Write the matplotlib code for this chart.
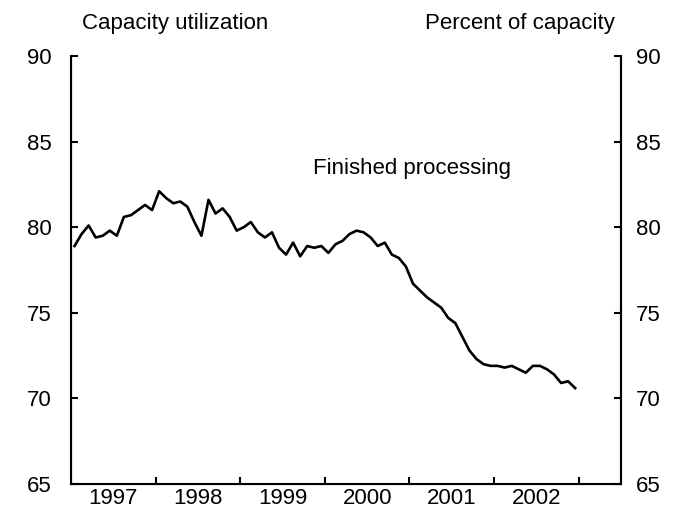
import matplotlib.pyplot as plt
import numpy as np

plt.rcParams['font.family'] = ['Liberation Sans', 'DejaVu Sans']

# monthly capacity utilization, finished processing, Jan 1997 - Dec 2002
util_1997 = [78.9, 79.6, 80.1, 79.4, 79.5, 79.8, 79.5, 80.6, 80.7, 81.0, 81.3, 81.0]
util_1998 = [82.1, 81.7, 81.4, 81.5, 81.2, 80.3, 79.5, 81.6, 80.8, 81.1, 80.6, 79.8]
util_1999 = [80.0, 80.3, 79.7, 79.4, 79.7, 78.8, 78.4, 79.1, 78.3, 78.9, 78.8, 78.9]
util_2000 = [78.5, 79.0, 79.2, 79.6, 79.8, 79.7, 79.4, 78.9, 79.1, 78.4, 78.2, 77.7]
util_2001 = [76.7, 76.3, 75.9, 75.6, 75.3, 74.7, 74.4, 73.6, 72.8, 72.3, 72.0, 71.9]
util_2002 = [71.9, 71.8, 71.9, 71.7, 71.5, 71.9, 71.9, 71.7, 71.4, 70.9, 71.0, 70.6]

years = [1997, 1998, 1999, 2000, 2001, 2002]
y_ticks = [65, 70, 75, 80, 85, 90]

util = util_1997 + util_1998 + util_1999 + util_2000 + util_2001 + util_2002
dates = years[0] + (np.arange(len(util)) + 0.5) / 12

fig = plt.figure(figsize=(6.97, 5.29), dpi=100)
ax = fig.add_axes([71 / 697, 1 - 484 / 529, 550 / 697, 428 / 529])

ax.plot(dates, util, color="black", linewidth=1.9)

ax.set_xlim(1997, 2003.5)
ax.set_ylim(65, 90)

ax.spines["top"].set_visible(False)
for side in ["left", "right", "bottom"]:
    ax.spines[side].set_linewidth(1.5)

ax.set_yticks(y_ticks)
ax.tick_params(axis="y", direction="in", length=5, width=1.5,
               labelsize=16, pad=14)

ax2 = ax.twinx()
ax2.set_ylim(65, 90)
ax2.set_yticks(y_ticks)
ax2.spines["top"].set_visible(False)
ax2.spines["right"].set_linewidth(1.5)
ax2.tick_params(axis="y", direction="in", length=5, width=1.5,
                labelsize=16, pad=11)

ax.set_xticks(np.arange(1998, 2004))
ax.set_xticklabels([])
ax.set_xticks([y + 0.5 for y in years], minor=True)
ax.set_xticklabels([str(y) for y in years], minor=True)
ax.tick_params(axis="x", which="major", direction="in", length=5, width=1.5)
ax.tick_params(axis="x", which="minor", length=0, labelsize=16, pad=3)

fig.text(82 / 697, 1 - 24 / 529, "Capacity utilization", fontsize=16,
         ha="left", va="center")
fig.text(615 / 697, 1 - 24 / 529, "Percent of capacity", fontsize=16,
         ha="right", va="center")
ax.text(2001.03, 83.4, "Finished processing", fontsize=16, ha="center", va="center")

fig.savefig("out.png", dpi=100)
